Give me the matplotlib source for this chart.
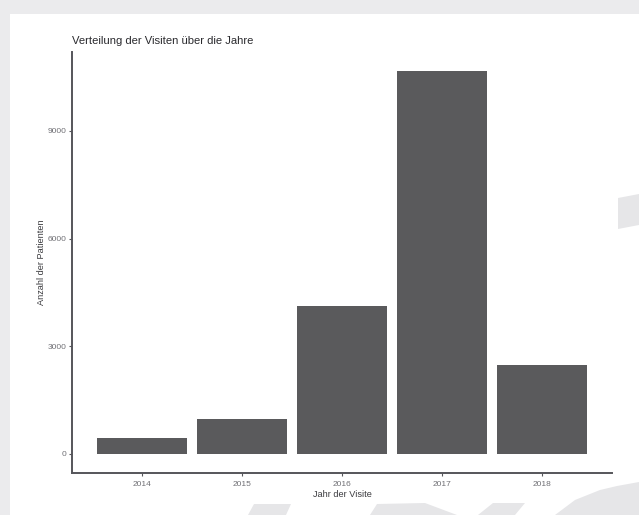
import matplotlib
matplotlib.use("Agg")
import matplotlib.pyplot as plt
from matplotlib.patches import Polygon

plt.rcParams['font.family'] = ['Liberation Sans', 'DejaVu Sans']

# Data
years = ["2014", "2015", "2016", "2017", "2018"]
visits = [450, 970, 4110, 10670, 2470]
y_ticks = [0, 3000, 6000, 9000]

W, H = 639, 515
fig = plt.figure(figsize=(W / 100, H / 100), dpi=100)
fig.patch.set_facecolor("white")


def px(x, y):
    """Pixel position (from top-left) to figure fraction."""
    return (x / W, 1 - y / H)


def shape(points, color="#e6e6e8"):
    fig.patches.append(Polygon([px(*p) for p in points], closed=True,
                               transform=fig.transFigure, facecolor=color,
                               edgecolor="none", zorder=0))


# light grey frame along top and left edges
shape([(0, 0), (W, 0), (W, 14), (0, 14)], "#ebebed")
shape([(0, 0), (10, 0), (10, H), (0, H)], "#ebebed")

# faint decorative shapes along right and bottom edges
shape([(618, 198), (639, 194), (639, 225), (618, 229)])
shape([(254, 504), (291, 504), (286, 515), (248, 515)])
shape([(377, 504), (425, 503), (457, 515), (370, 515)])
shape([(493, 503), (525, 503), (515, 515), (478, 515)])
shape([(555, 515), (575, 500), (600, 490), (617, 486), (639, 482), (639, 515)])

ax = fig.add_axes([72 / W, 1 - 473 / H, (612 - 72) / W, (473 - 52) / H])
ax.set_facecolor("none")

pos = list(range(1, len(years) + 1))
ax.bar(pos, visits, width=0.9, color="#5a5a5c", edgecolor="none", zorder=2)

ax.set_xlim(0.3, 5.7)
ax.set_ylim(-533, 11200)
ax.set_xticks(pos)
ax.set_xticklabels(years)
ax.set_yticks(y_ticks)
ax.set_yticklabels([str(v) for v in y_ticks])

for s in ["top", "right"]:
    ax.spines[s].set_visible(False)
for s in ["left", "bottom"]:
    ax.spines[s].set_color("#55555a")
    ax.spines[s].set_linewidth(1.4)

ax.tick_params(axis="both", length=2.5, width=0.8, color="#55555a",
               labelsize=6.0, labelcolor="#707075")
ax.tick_params(axis="y", pad=1.5)
ax.tick_params(axis="x", pad=3)

ax.set_xlabel("Jahr der Visite", fontsize=6.6, color="#3a3a3e", labelpad=2)
ax.set_ylabel("Anzahl der Patienten", fontsize=6.6, color="#3a3a3e", labelpad=1)
ax.set_title("Verteilung der Visiten über die Jahre", loc="left",
             fontsize=8.1, color="#2a2a2e", pad=6)

fig.savefig("out.png", dpi=100)
